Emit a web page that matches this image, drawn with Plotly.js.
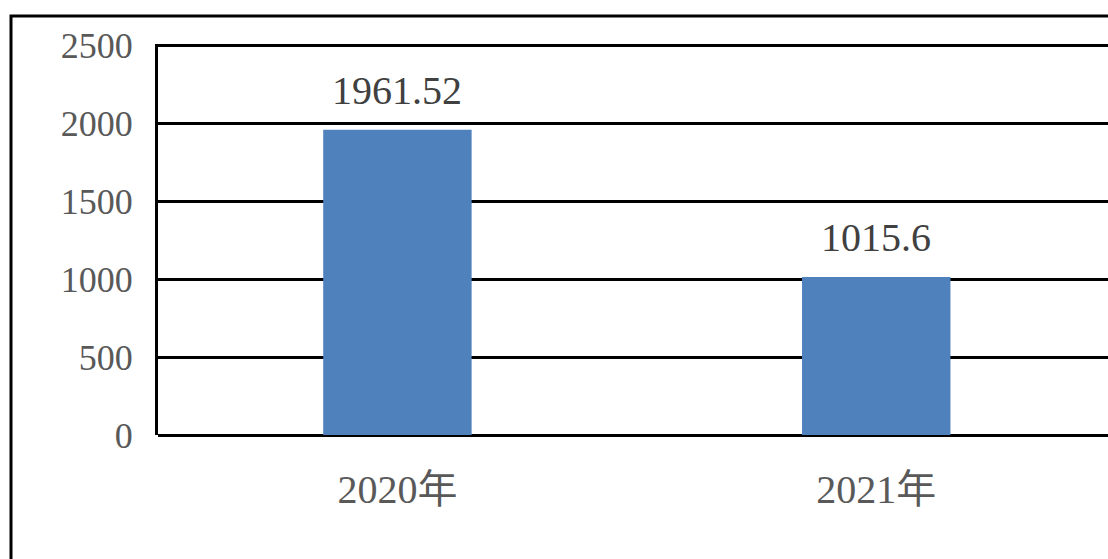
<!DOCTYPE html>
<html>
<head>
<meta charset="utf-8">
<script src="https://cdn.plot.ly/plotly-3.0.1.min.js"></script>
<style>html,body{margin:0;padding:0;background:#fff;}#chart{width:1108px;height:559px;}</style>
</head>
<body>
<div id="chart"></div>
<script>
const categories = ['2020年', '2021年'];
const values = [1961.52, 1015.6];
const valueLabels = ['1961.52', '1015.6'];
const yTicks = [0, 500, 1000, 1500, 2000, 2500];

const fontFam = "'Liberation Serif', 'Noto Sans CJK SC', serif";

const trace = {
  type: 'bar',
  x: categories,
  y: values,
  marker: {color: '#4F81BD', line: {width: 0}},
  width: 0.31,
  hoverinfo: 'none'
};

const annotations = categories.map((c, i) => ({
  x: c, y: values[i], xref: 'x', yref: 'y',
  text: valueLabels[i], showarrow: false,
  yanchor: 'middle', yshift: 39,
  font: {family: fontFam, size: 40, color: '#404040'}
}));

const layout = {
  width: 1108, height: 559,
  margin: {l: 158, r: 0, t: 44, b: 124, pad: 0},
  paper_bgcolor: '#ffffff', plot_bgcolor: '#ffffff',
  showlegend: false,
  font: {family: fontFam},
  xaxis: {
    type: 'category',
    range: [-0.5, 1.484],
    showgrid: false, zeroline: false, showline: false,
    ticks: '', ticklabelstandoff: 27,
    tickfont: {family: fontFam, size: 40, color: '#595959'}
  },
  yaxis: {
    range: [0, 2512],
    tickvals: yTicks,
    showgrid: true, gridcolor: '#000000', gridwidth: 3,
    zeroline: true, zerolinecolor: '#000000', zerolinewidth: 3,
    showline: true, linecolor: '#000000', linewidth: 3,
    ticks: '', ticklabelstandoff: 15,
    tickfont: {family: fontFam, size: 36, color: '#595959'}
  },
  shapes: [
    {type: 'rect', xref: 'paper', yref: 'paper',
     x0: (11 - 158) / 950, x1: 1.2, y0: -0.6, y1: (435 - 16) / 391,
     line: {color: '#000000', width: 3}, fillcolor: 'rgba(0,0,0,0)', layer: 'below'}
  ],
  annotations: annotations
};

Plotly.newPlot('chart', [trace], layout, {staticPlot: true, displayModeBar: false});
</script>
</body>
</html>
